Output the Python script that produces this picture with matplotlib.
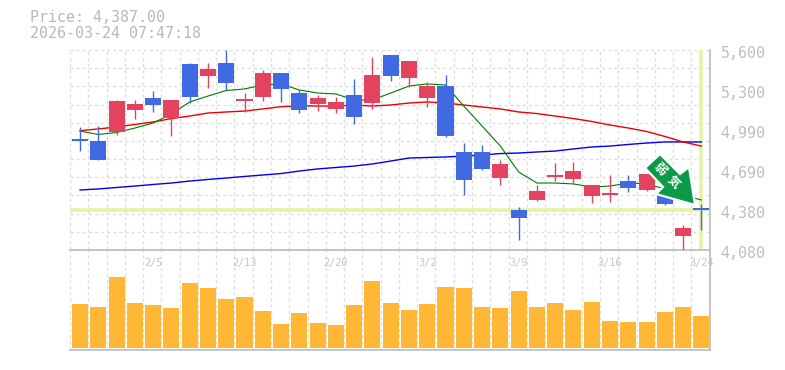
import matplotlib
matplotlib.use('Agg')
import matplotlib.pyplot as plt
from matplotlib.patches import Polygon, Rectangle
from matplotlib.transforms import Affine2D

# daily candles, 35 sessions
opens = [4920, 4908, 4980, 5144, 5235, 5083, 5494, 5402, 5501, 5212, 5243, 5425,
         5273, 5190, 5152, 5258, 5197, 5562, 5387, 5235, 5326, 4825, 4825, 4627,
         4384, 4460, 4635, 4620, 4490, 4498, 4604, 4536, 4521, 4186, 4399]
closes = [4908, 4764, 5212, 5190, 5182, 5220, 5243, 5456, 5349, 5228, 5425, 5304,
          5144, 5235, 5205, 5091, 5410, 5402, 5516, 5326, 4946, 4612, 4696, 4734,
          4323, 4528, 4650, 4680, 4574, 4513, 4551, 4658, 4430, 4247, 4387]
highs = [5015, 5022, 5220, 5220, 5288, 5220, 5501, 5501, 5600, 5273, 5448, 5425,
         5296, 5258, 5243, 5380, 5547, 5562, 5516, 5357, 5410, 4893, 4878, 4764,
         4407, 4574, 4741, 4749, 4574, 4650, 4650, 4658, 4521, 4270, 4430]
lows = [4832, 4764, 4954, 5076, 5129, 4946, 5197, 5311, 5296, 5129, 5212, 5205,
        5121, 5136, 5121, 5038, 5152, 5364, 5319, 5167, 4939, 4498, 4688, 4574,
        4156, 4452, 4604, 4589, 4437, 4445, 4521, 4528, 4422, 4080, 4232]
ma_short = [4984, 4958, 4973, 5007, 5045, 5114, 5205, 5250, 5292, 5304, 5334, 5342,
            5296, 5273, 5266, 5220, 5220, 5273, 5326, 5342, 5334, 5174, 5022, 4870,
            4673, 4589, 4589, 4582, 4559, 4566, 4589, 4582, 4544, 4498, 4460]
ma_mid = [4987, 5000, 5015, 5034, 5053, 5079, 5098, 5121, 5129, 5136, 5152, 5169,
          5177, 5174, 5174, 5182, 5174, 5182, 5197, 5205, 5197, 5182, 5167, 5152,
          5129, 5117, 5098, 5079, 5057, 5030, 5007, 4981, 4943, 4901, 4870]
ma_long = [4536, 4544, 4555, 4566, 4578, 4589, 4604, 4616, 4627, 4639, 4650, 4661,
           4680, 4696, 4707, 4718, 4734, 4756, 4779, 4783, 4787, 4794, 4802, 4813,
           4817, 4825, 4832, 4848, 4863, 4870, 4882, 4893, 4901, 4901, 4901]
volumes = [4400, 4100, 7100, 4500, 4300, 4000, 6500, 6000, 4900, 5100, 3700, 2400,
           3500, 2500, 2300, 4300, 6700, 4500, 3800, 4400, 6100, 6000, 4100, 4000,
           5700, 4100, 4500, 3800, 4600, 2700, 2600, 2600, 3600, 4100, 3200]
last_price = 4387
y_ticks = [5600, 5296, 4992, 4688, 4384, 4080]
y_labels = ['5,600', '5,300', '4,990', '4,690', '4,380', '4,080']
date_pos = [4, 9, 14, 19, 24, 29, 34]
date_labels = ['2/5', '2/13', '2/20', '3/2', '3/9', '3/16', '3/24']

W, H = 785, 370
GREY = '#c4c4c4'
GRID = '#dddddd'
UP = '#e3435f'
DOWN = '#4169e1'
HILITE = '#e4f3a6'
ARROW = '#0a9a48'
xs = [i + 0.55 for i in range(len(opens))]


def box(left, top, right, bottom):
    return [left / W, 1 - bottom / H, (right - left) / W, (bottom - top) / H]


fig = plt.figure(figsize=(W / 100, H / 100), dpi=100, facecolor='white')
ax_vol = fig.add_axes(box(70, 250, 709.6, 349.6))
ax = fig.add_axes(box(70, 50, 709.6, 250), facecolor='none')

# volume panel
ax_vol.bar(xs, volumes, width=0.88, color='#ffb735', zorder=3)
ax_vol.set_xlim(0, 35)
ax_vol.set_ylim(-160, 9800)
ax_vol.set_xticks(range(36))
ax_vol.set_yticks([])
ax_vol.tick_params(length=0, labelbottom=False)
ax_vol.grid(axis='x', color=GRID, lw=1, ls=(0, (2.2, 2.2)))
ax_vol.set_axisbelow(True)

# price panel
ax.set_xlim(0, 35)
ax.set_ylim(4080, 5600)
for x in range(36):
    ax.axvline(x, color=GRID, lw=1, ls=(0, (2.2, 2.2)), zorder=1)
for k in range(12):
    ax.axhline(4080 + k * 1520 / 11, color=GRID, lw=1, ls=(0, (2.2, 2.2)), zorder=1)

ax.plot([0, 34.9], [last_price, last_price], color=HILITE, lw=2.6, zorder=2)
ax.plot([xs[-1], xs[-1]], [4090, 5600], color=HILITE, lw=2.6, zorder=2)

ax.plot(xs, ma_long, color='#0000ee', lw=1.0, zorder=3)
ax.plot(xs, ma_mid, color='#ee0000', lw=1.0, zorder=3)
ax.plot(xs, ma_short, color='#007a00', lw=0.8, zorder=3)

for x, o, c, h, l in zip(xs, opens, closes, highs, lows):
    col = UP if c > o else DOWN
    ax.plot([x, x], [l, h], color=col, lw=1.0, zorder=4, solid_capstyle='butt')
    ax.add_patch(Rectangle((x - 0.44, min(o, c)), 0.88, max(abs(c - o), 12),
                           facecolor=col, edgecolor='none', zorder=5))

ax.set_yticks([])
ax.set_xticks([xs[i] for i in date_pos])
ax.set_xticklabels(date_labels, family='DejaVu Sans Mono', fontsize=7.4, color=GREY)
ax.tick_params(axis='x', length=0, pad=6)

for val, lab in zip(y_ticks, y_labels):
    ax.annotate(lab, (1, val), xycoords=('axes fraction', 'data'),
                xytext=(8, -2.2), textcoords='offset points', va='center', ha='left',
                family='DejaVu Sans Mono', fontsize=10.8, color='#bebebe',
                annotation_clip=False)

for a in (ax, ax_vol):
    a.spines['top'].set_visible(False)
    a.spines['left'].set_visible(False)
    a.spines['right'].set_color('#c0c0c0')
    a.spines['bottom'].set_color('#c0c0c0')
    a.spines['right'].set_linewidth(1.3)
    a.spines['bottom'].set_linewidth(1.3)

# signal arrow, placed in screen pixels like the sticker it is
to_px = Affine2D().scale(1, -1).translate(0, H)
arrow_px = [(660, 154), (645, 168), (663, 187), (656, 194), (695, 205), (689, 167), (680, 174)]
fig.add_artist(Polygon(arrow_px, closed=True, facecolor=ARROW, edgecolor='white', lw=1.6,
                       transform=to_px, zorder=10))
for ch, cx, cy in [('弱', 660, 169), ('気', 673, 182)]:
    fig.text(cx / W, 1 - cy / H, ch, rotation=-45, rotation_mode='anchor', ha='center', va='center',
             color='white', fontsize=9, fontweight='bold', family=['Noto Sans CJK JP', 'DejaVu Sans'], zorder=11)

fig.text(30 / W, 1 - 18 / H, 'Price: 4,387.00', family='DejaVu Sans Mono', fontsize=10.8, color='#b8b8b8',
         va='center', ha='left')
fig.text(30 / W, 1 - 33 / H, '2026-03-24 07:47:18', family='DejaVu Sans Mono', fontsize=10.8, color='#b8b8b8',
         va='center', ha='left')

fig.savefig('out.png', dpi=100, facecolor='white')
